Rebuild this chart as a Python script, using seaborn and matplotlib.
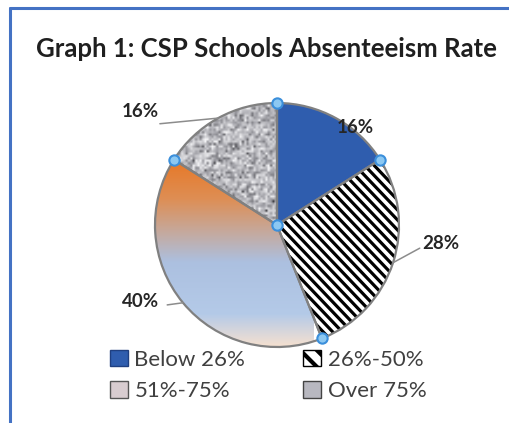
import numpy as np
import matplotlib
matplotlib.use("Agg")
import matplotlib.pyplot as plt
import seaborn as sns
from matplotlib.patches import Patch
from matplotlib.lines import Line2D
from matplotlib.colors import LinearSegmentedColormap

# data
categories = ["Below 26%", "26%-50%", "51%-75%", "Over 75%"]
shares = [16, 28, 40, 16]
label_text = ["16%", "28%", "40%", "16%"]
title = "Graph 1: CSP Schools Absenteeism Rate"

sns.set_theme(style="white")
plt.rcParams["font.family"] = ["Lato", "DejaVu Sans"]
plt.rcParams["hatch.linewidth"] = 3.0

W, H, DPI = 510, 423, 100
cx, cy, rpx = 277, 225, 122   # pie centre / radius in pixels

fig = plt.figure(figsize=(W / DPI, H / DPI), dpi=DPI)
ax = fig.add_axes([0, 0, 1, 1])

blue = "#2F5DAE"
wedges, _ = ax.pie(shares, startangle=90, counterclock=False, radius=1,
                   colors=[blue, "none", "none", "none"],
                   wedgeprops=dict(edgecolor="#808080", linewidth=1.6, zorder=3))

# black diagonal stripes on the 26-50 slice
step = 10 / rpx
for c in np.arange(-2.2, 2.2, step):
    xs = np.array([-1.2, 1.2])
    ln, = ax.plot(xs, -1.05 * xs + c, color="black", lw=2.3, zorder=2,
                  solid_capstyle="butt")
    ln.set_clip_path(wedges[1])

# gradient on the 51-75 slice
stops = np.array([[0.0, 232, 118, 34],
                  [0.22, 222, 142, 84],
                  [0.40, 196, 170, 160],
                  [0.55, 172, 192, 224],
                  [0.82, 180, 202, 232],
                  [1.0, 250, 226, 206]])
t = np.linspace(0, 1, 256)
grad = np.stack([np.interp(t, stops[:, 0], stops[:, k]) for k in (1, 2, 3)], axis=-1) / 255
im = ax.imshow(grad[:, None, :], extent=(-1.05, 0.3, -1.02, 0.56), aspect="auto",
               interpolation="bilinear", zorder=1)
im.set_clip_path(wedges[2])

# granite texture on the over-75 slice
granite = LinearSegmentedColormap.from_list("granite", ["#35353a", "#a8a8ae", "#f4f4f6"])
rng = np.random.default_rng(7)
tex = np.clip(rng.normal(0.62, 0.2, (55, 55)), 0.0, 1.0)
im2 = ax.imshow(tex, extent=(-1.0, 0.05, -0.05, 1.02), cmap=granite, vmin=0, vmax=1,
                interpolation="bilinear", zorder=1)
im2.set_clip_path(wedges[3])

# data labels + leader lines
label_pos = [(0.64, 0.80), (1.34, -0.155), (-1.12, -0.63), (-1.12, 0.93)]
for txt, (x, y) in zip(label_text, label_pos):
    ax.text(x, y, txt, ha="center", va="center", fontsize=13.5, fontweight="bold",
            color="#262626", zorder=5)

cum = np.cumsum([0] + shares)
mids = 90 - (cum[:-1] + cum[1:]) / 2 * 3.6
leader_end = {1: (1.17, -0.19), 2: (-0.90, -0.655), 3: (-0.96, 0.83)}
for i, (ex, ey) in leader_end.items():
    a = np.deg2rad(mids[i])
    ax.plot([np.cos(a), ex], [np.sin(a), ey], color="#8C8C8C", lw=1.1, zorder=4)

# selection handles at slice boundaries
bang = np.deg2rad(90 - cum[:-1] * 3.6)
hx = list(np.cos(bang)) + [0]
hy = list(np.sin(bang)) + [0]
ax.scatter(hx, hy, s=55, facecolor="#8CC8F2", edgecolor="#3B8FDB", linewidth=1.5, zorder=6)

ax.set_xlim(-cx / rpx, (W - cx) / rpx)
ax.set_ylim(-(H - cy) / rpx, cy / rpx)
ax.set_aspect("auto")
ax.axis("off")

fig.text(266 / W, 1 - 49 / H, title, ha="center", va="center", fontsize=18.5,
         fontweight="bold", color="#1F1F1F")

handles = [Patch(facecolor=blue, edgecolor="#1F3F80"),
           Patch(facecolor="#D8CCD0", edgecolor="#555555"),
           Patch(facecolor="white", edgecolor="black", hatch="\\\\"),
           Patch(facecolor="#B8B8C0", edgecolor="#444444")]
labels = [categories[0], categories[2], categories[1], categories[3]]
leg = fig.legend(handles, labels, ncol=2, loc="upper left",
                 bbox_to_anchor=(110 / W, 1 - 350 / H), frameon=False,
                 fontsize=16, handlelength=0.8, handleheight=0.75,
                 handletextpad=0.3, labelspacing=0.5, columnspacing=2.6,
                 borderpad=0, borderaxespad=0)
for t_ in leg.get_texts():
    t_.set_color("#404040")

# blue frame on left and top
fig.add_artist(Line2D([10 / W, 10 / W], [0, 1 - 8 / H], color="#4472C4", lw=2.2))
fig.add_artist(Line2D([10 / W, 1], [1 - 8 / H, 1 - 8 / H], color="#4472C4", lw=2.2))

fig.savefig("out.png", dpi=DPI)
